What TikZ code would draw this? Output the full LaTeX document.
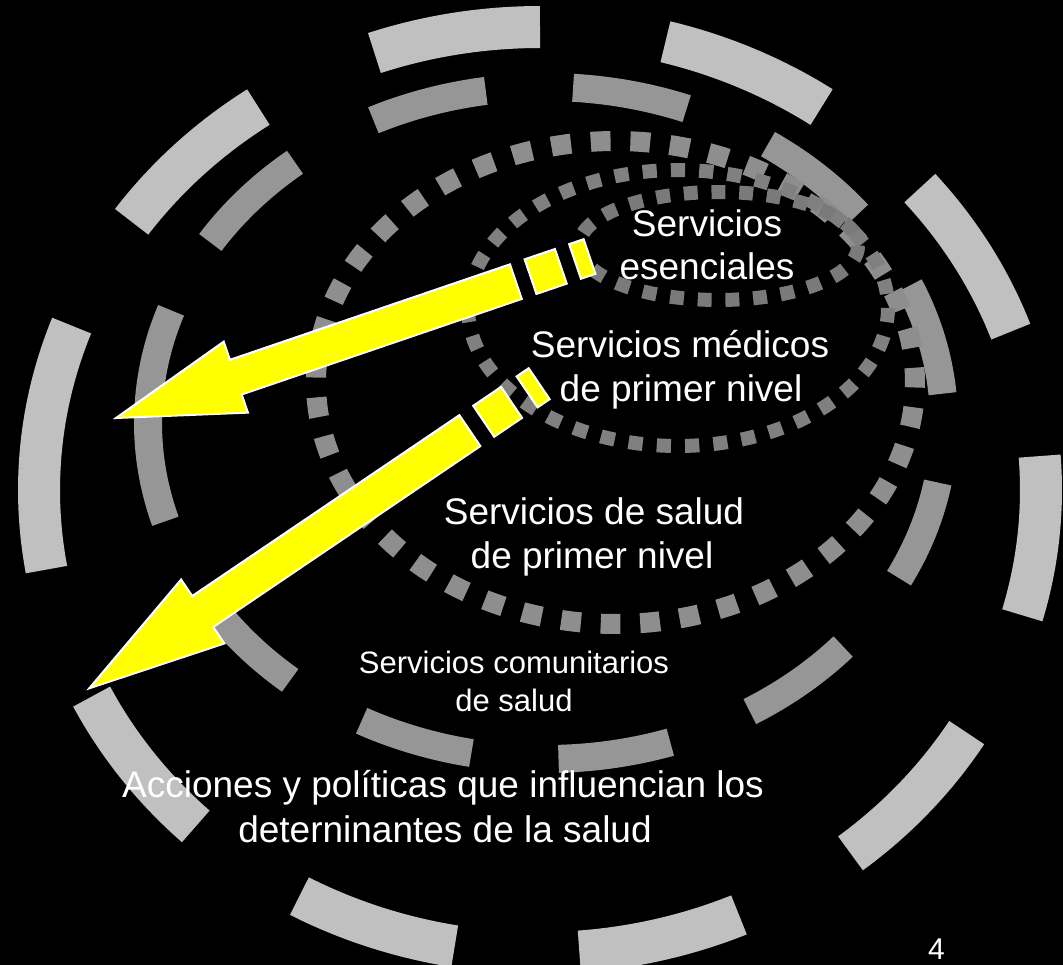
\documentclass[tikz,border=0pt]{standalone}
\usepackage{fontspec}
\setmainfont{Liberation Sans}
\definecolor{ringonecol}{HTML}{C0C0C0}
\definecolor{ringtwocol}{HTML}{969696}
\definecolor{ringthreecol}{HTML}{8E8E8E}
\definecolor{ringfourcol}{HTML}{808080}
\definecolor{ringfivecol}{HTML}{7A7A7A}
\definecolor{arrowyellow}{HTML}{FFFF00}
\begin{document}
\begin{tikzpicture}[x=1pt,y=-1pt,
  ringone/.style={draw=ringonecol,line width=42pt},
  ringtwo/.style={draw=ringtwocol,line width=28pt},
  ringthree/.style={draw=ringthreecol,line width=20pt},
  ringfour/.style={draw=ringfourcol,line width=14pt},
  ringfive/.style={draw=ringfivecol,line width=14pt},
  arrowsty/.style={fill=arrowyellow,draw=white,line width=2pt,line join=miter},
  bigtxt/.style={text=white,anchor=base,inner sep=0pt,font=\fontsize{37}{44}\selectfont},
  smalltxt/.style={text=white,anchor=base,inner sep=0pt,font=\fontsize{31}{37}\selectfont},
  numtxt/.style={text=white,anchor=base,inner sep=0pt,font=\fontsize{30}{36}\selectfont}]
\fill[black] (0,0) rectangle (1063,965);
\useasboundingbox (0,0) rectangle (1063,965);

% ring 1 (outer, light gray long dashes)
\foreach \a/\b in {-4.2/15.7, 31.6/51.7, 66.6/85.5, 99.8/118.7, 133.4/153.5, 170.1/200.8, 215.4/235.8, 250.7/270, 284.5/304.2, 319.3/340}
  \draw[ringone] plot[domain=\a:\b, samples=40] ({540+501*cos(\x)},{490+463*sin(\x)});

% ring 2 (medium gray dashes)
\foreach \a/\b in {10.2/27.5, 41.7/59.2, 71.8/88.2, 100.8/117.6, 130/147.5, 163/199.6, 212.5/230.9, 244.3/261.3, 273.9/290.7, 303.9/321.6, 335.9/355}
  \draw[ringtwo] plot[domain=\a:\b, samples=40] ({546+398*cos(\x)},{423+336*sin(\x)});

% ring 3 (square dots)
\draw[ringthree, dash pattern=on 19.8pt off 19.84pt, dash phase=5pt]
  plot[domain=90:450, samples=300] ({615.5+299.5*cos(\x)},{382.5+241.5*sin(\x)});

% ring 4 (small square dots)
\draw[ringfour, dash pattern=on 14.2pt off 14.13pt]
  plot[domain=0:360, samples=240] ({678+210*cos(\x)},{308+138*sin(\x)});

% ring 5 (innermost small square dots)
\draw[ringfive, dash pattern=on 13.9pt off 13.83pt]
  plot[domain=0:360, samples=200] ({718.5+139.5*cos(\x)},{246+54*sin(\x)});

% arrow 1
\begin{scope}[shift={(116,418)}, rotate=18.83]
  \coordinate (tipone) at (0,0);
  \filldraw[arrowsty] (tipone) -- (126.6,37.5) -- (126.6,18.3) -- (422.5,18.3) -- (422.5,-18.3) -- (126.6,-18.3) -- (126.6,-37.5) -- cycle;
  \filldraw[arrowsty] (438,-18.3) -- (470,-18.3) -- (470,18.3) -- (438,18.3) -- cycle;
  \filldraw[arrowsty] (485,-18.3) -- (500.3,-18.3) -- (500.3,18.3) -- (485,18.3) -- cycle;
\end{scope}

% arrow 2
\begin{scope}[shift={(89.3,688.3)}, rotate=34.1]
  \coordinate (tiptwo) at (0,0);
  \filldraw[arrowsty] (tiptwo) -- (137,38.6) -- (137,18.7) -- (459.6,18.7) -- (459.6,-18.7) -- (137,-18.7) -- (137,-38.6) -- cycle;
  \filldraw[arrowsty] (476.3,-18.7) -- (510,-18.7) -- (510,18.7) -- (476.3,18.7) -- cycle;
  \filldraw[arrowsty] (528.7,-18.7) -- (543.3,-18.7) -- (543.3,18.7) -- (528.7,18.7) -- cycle;
\end{scope}

% texts
\node[bigtxt] (eseA) at (707,237) {Servicios};
\node[bigtxt] (eseB) at (707,280) {esenciales};
\node[bigtxt] (medA) at (680,358) {Servicios médicos};
\node[bigtxt] (medB) at (681,402) {de primer nivel};
\node[bigtxt] (salA) at (594,524) {Servicios de salud};
\node[bigtxt] (salB) at (592,568) {de primer nivel};
\node[smalltxt] (comA) at (514,673) {Servicios comunitarios};
\node[smalltxt] (comB) at (514,711) {de salud};
\node[bigtxt] (accA) at (443,797) {Acciones y políticas que influencian los};
\node[bigtxt] (accB) at (445,842) {deterninantes de la salud};
\node[numtxt] (pagenum) at (936.5,959) {4};
\end{tikzpicture}
\end{document}
